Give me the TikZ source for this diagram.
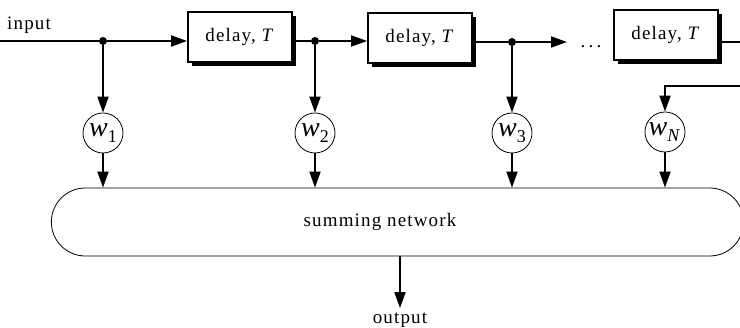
\documentclass[tikz,border=0pt]{standalone}
\usepackage{fontspec}
\setmainfont{Liberation Serif}[LetterSpace=6]
\usetikzlibrary{arrows.meta,shapes.misc,shadows}

\newcommand{\wlab}[1]{{\fontsize{28}{28}\selectfont\itshape w}\raisebox{-6pt}{\fontsize{18}{18}\selectfont #1}}

\begin{document}
\begin{tikzpicture}[%
x=1pt, y=-1pt,
sig/.style={line width=1.8pt, -{Triangle[length=16pt,width=11pt]}},
wire/.style={line width=1.8pt},
delaybox/.style={draw, line width=1.8pt, fill=white, minimum width=104pt, minimum height=50pt, inner sep=0pt, font=\fontsize{19}{22}\selectfont, drop shadow={shadow xshift=4pt, shadow yshift=-4pt, fill=black, opacity=1}},
weight/.style={draw, circle, line width=0.8pt, minimum size=40pt, inner sep=0pt},
tap/.style={circle, fill=black, inner sep=0pt, minimum size=8pt},
lbl/.style={font=\fontsize{19}{22}\selectfont, inner sep=0pt},
]
\useasboundingbox (0,0) rectangle (740,328);
\clip (0,0) rectangle (740,328);
%% delay line;
\coordinate (in) at (0,41);
\node [lbl, anchor=base west] (inlbl) at (7,30) {input};
\node [tap] (t1) at (103,41) {};
\node [delaybox] (d1) at (240,37) {delay, \textit{T}};
\node [tap] (t2) at (315,41) {};
\node [delaybox] (d2) at (420,38) {delay, \textit{T}};
\node [tap] (t3) at (512,42) {};
\coordinate (c3) at (567,42);
\node [lbl, anchor=base] (dots) at (591,48) {.\,.\,.};
\node [delaybox] (d3) at (666,35) {delay, \textit{T}};
\coordinate (o3) at (740,42);
\coordinate (fb) at (740,86);
%% weights;
\node [weight] (w1) at (103,133) {\wlab{1}};
\node [weight] (w2) at (315,133) {\wlab{2}};
\node [weight] (w3) at (512,133) {\wlab{3}};
\node [weight] (w4) at (665,132) {\wlab{\textit{N}}};
%% summing network;
\node [draw, rounded rectangle, line width=0.8pt, minimum width=699pt, minimum height=68pt] (sum) at (397.5,222) {};
\node [lbl] (sumlbl) at (380,222) {summing network};
\node [lbl, anchor=base] (out) at (400,324) {output};
%% connectors;
\draw [sig] (in) -- (t1) -- (t1 -| d1.west);
\draw [sig] (d1.east |- t2) -- (t2) -- (t2 -| d2.west);
\draw [sig] (d2.east |- t3) -- (t3) -- (c3);
\draw [wire] (d3.east |- o3) -- (o3);
\draw [sig] (fb) -- (fb -| w4) -- (w4.north);
\draw [sig] (t1) -- (w1.north);
\draw [sig] (t2) -- (w2.north);
\draw [sig] (t3) -- (w3.north);
\draw [sig] (w1.south) -- (w1 |- sum.north);
\draw [sig] (w2.south) -- (w2 |- sum.north);
\draw [sig] (w3.south) -- (w3 |- sum.north);
\draw [sig] (w4.south) -- (w4 |- sum.north);
\draw [sig] (sum.south -| out) -- ([yshift=5pt]out.north);
\end{tikzpicture}
\end{document}
